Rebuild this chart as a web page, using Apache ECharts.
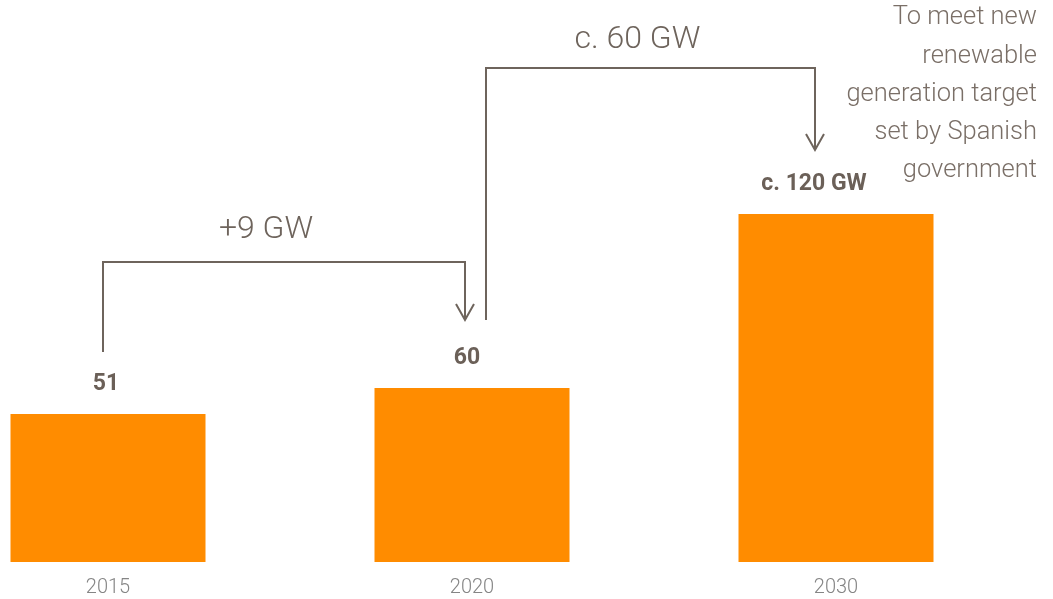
<!DOCTYPE html>
<html>
<head>
<meta charset="utf-8">
<script src="https://cdn.jsdelivr.net/npm/echarts@6/dist/echarts.min.js"></script>
<style>
  html, body { margin: 0; padding: 0; background: #ffffff; }
  #chart { width: 1053px; height: 599px; }
</style>
</head>
<body>
<div id="chart"></div>
<script>
const categories = ['2015', '2020', '2030'];
const capacity = [51, 60, 120];
const barLabels = ['51', '60', 'c. 120 GW'];
const stepTexts = ['+9 GW', 'c. 60 GW'];
const noteLines = ['To meet new', 'renewable', 'generation target', 'set by Spanish', 'government'];

const FONT = 'Roboto, "Noto Sans", sans-serif';
const INK = '#6e645c';
const BAR = '#FF8C00';
const labelShift = [-2, -5, -22];

const chart = echarts.init(document.getElementById('chart'), null, { renderer: 'canvas' });

chart.setOption({
  animation: false,
  backgroundColor: '#ffffff',
  grid: { left: 108, right: 217, top: 127, bottom: 37, containLabel: false },
  xAxis: {
    type: 'category',
    data: categories,
    boundaryGap: false,
    axisLine: { show: false },
    axisTick: { show: false },
    axisLabel: { color: '#858585', fontSize: 20, fontFamily: FONT, fontWeight: 300, margin: 16 }
  },
  yAxis: {
    type: 'value',
    min: 0,
    max: 150,
    show: false,
    splitLine: { show: false }
  },
  series: [{
    type: 'bar',
    data: capacity.map((v, i) => ({ value: v, label: { offset: [labelShift[i], 0] } })),
    barWidth: 195,
    itemStyle: { color: BAR },
    label: {
      show: true,
      position: 'top',
      distance: 18,
      color: '#6b6058',
      fontSize: 23,
      fontWeight: 'bold',
      fontFamily: FONT,
      formatter: p => barLabels[p.dataIndex]
    }
  }]
});

function px(i) {
  return chart.convertToPixel({ xAxisIndex: 0, yAxisIndex: 0 }, [i, capacity[i]]);
}

function arrowHead(x, y) {
  return {
    type: 'polyline',
    shape: { points: [[x - 9, y - 16], [x, y], [x + 9, y - 16]] },
    style: { stroke: INK, lineWidth: 2, fill: null }
  };
}

const p0 = px(0), p1 = px(1), p2 = px(2);

// bracket 1: 2015 -> 2020
const b1L = p0[0] - 5, b1R = p1[0] - 7;
const b1Bottom = p0[1] - 62;
const b1Tip = p1[1] - 68;
const b1Top = b1Tip - 58;
// bracket 2: 2020 -> 2030
const b2L = p1[0] + 14, b2R = p2[0] - 21;
const b2Bottom = b1Tip;
const b2Tip = p2[1] - 64;
const b2Top = b2Tip - 82;

const graphics = [
  {
    type: 'polyline',
    shape: { points: [[b1L, b1Bottom], [b1L, b1Top], [b1R, b1Top], [b1R, b1Tip]] },
    style: { stroke: INK, lineWidth: 2, fill: null }
  },
  arrowHead(b1R, b1Tip),
  {
    type: 'text',
    x: (b1L + b1R) / 2 - 18,
    y: b1Top - 16,
    style: { text: stepTexts[0], fill: INK, font: '300 32px ' + FONT, textAlign: 'center', textVerticalAlign: 'bottom' }
  },
  {
    type: 'polyline',
    shape: { points: [[b2L, b2Bottom], [b2L, b2Top], [b2R, b2Top], [b2R, b2Tip]] },
    style: { stroke: INK, lineWidth: 2, fill: null }
  },
  arrowHead(b2R, b2Tip),
  {
    type: 'text',
    x: (b2L + b2R) / 2 - 13,
    y: b2Top - 12,
    style: { text: stepTexts[1], fill: INK, font: '300 32px ' + FONT, textAlign: 'center', textVerticalAlign: 'bottom' }
  }
];

noteLines.forEach((t, i) => {
  graphics.push({
    type: 'text',
    x: 1037,
    y: 18 + i * 38.2,
    style: { text: t, fill: '#7a6f67', font: '300 25.5px ' + FONT, textAlign: 'right', textVerticalAlign: 'middle' }
  });
});

chart.setOption({ graphic: graphics });
</script>
</body>
</html>
